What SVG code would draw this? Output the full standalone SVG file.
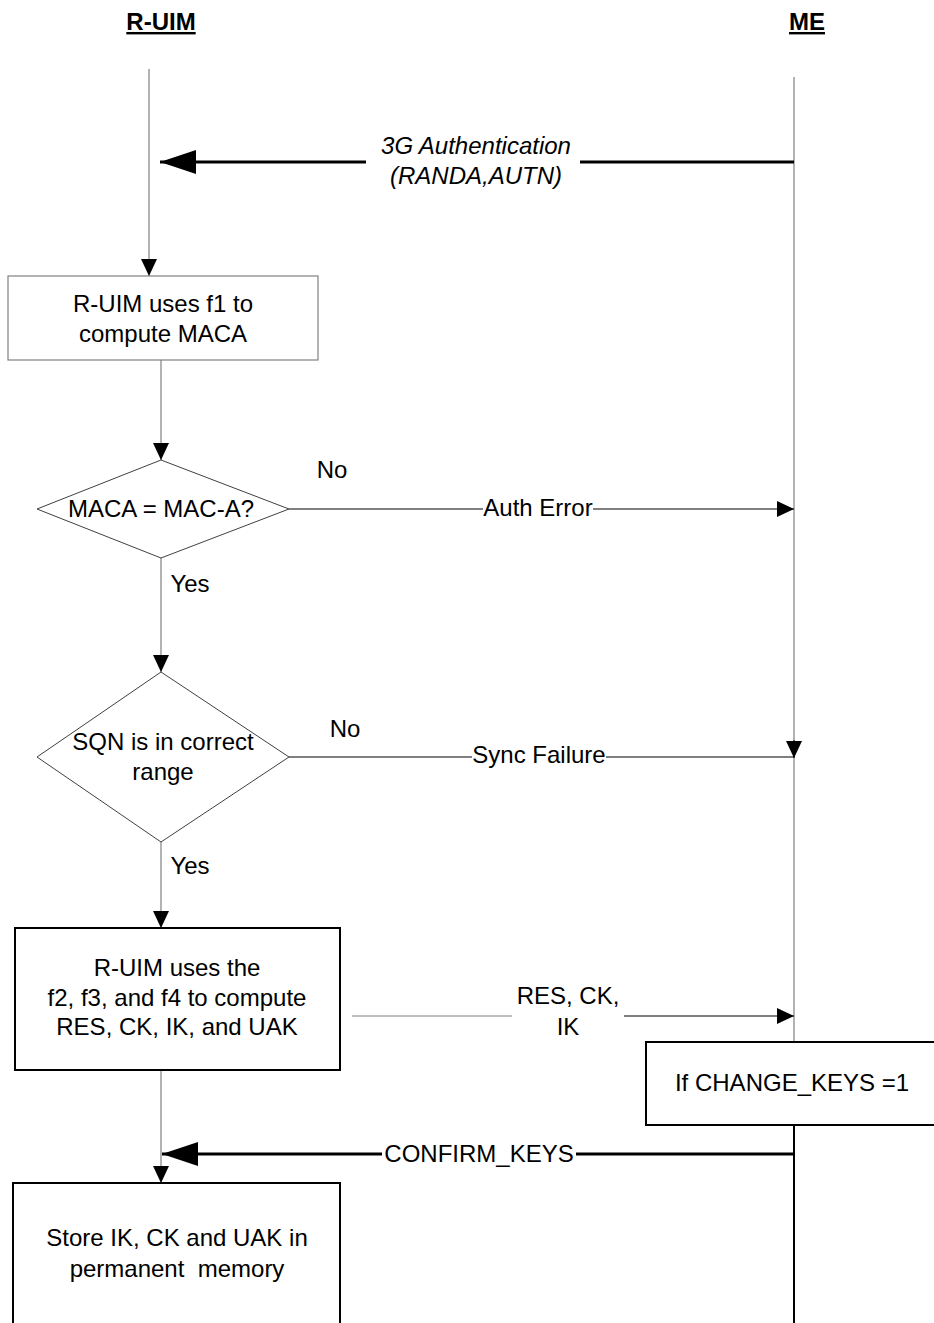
<svg xmlns="http://www.w3.org/2000/svg" width="934" height="1323" viewBox="0 0 934 1323">
<defs>
<style>
text{font-family:"Liberation Sans",Arial,sans-serif;font-size:24px;fill:#000}
.title{font-weight:bold;font-size:24px;text-decoration:underline}
.it{font-style:italic}
.pre{white-space:pre}
.life{stroke:#808080;stroke-width:1.2;fill:none}
.thin{stroke:#000;stroke-width:1;fill:none}
.gray{stroke:#808080;stroke-width:1;fill:none}
.thick{stroke:#000;stroke-width:3;fill:none}
.box{fill:#fff;stroke:#808080;stroke-width:1.2}
.boxb{fill:#fff;stroke:#000;stroke-width:2}
.dia{fill:#fff;stroke:#404040;stroke-width:1}
</style>
<marker id="ah" markerUnits="userSpaceOnUse" markerWidth="18" markerHeight="16" refX="17" refY="8" orient="auto"><path d="M0,0 L17,8 L0,16 z" fill="#000"/></marker>
<marker id="big" markerUnits="userSpaceOnUse" markerWidth="37" markerHeight="24" refX="36" refY="12" orient="auto"><path d="M0,0 L36,12 L0,24 z" fill="#000"/></marker>
</defs>
<rect width="934" height="1323" fill="#fff"/>
<g id="title-ruim"><text class="title" x="161" y="30" text-anchor="middle">R-UIM</text></g>
<g id="title-me"><text class="title" x="807" y="30" text-anchor="middle">ME</text></g>
<g id="connectors">
<line class="life" x1="149" y1="69" x2="149" y2="276" marker-end="url(#ah)"/>
<line class="life" x1="794" y1="77" x2="794" y2="1042"/>
<line x1="794" y1="1125" x2="794" y2="1323" stroke="#000" stroke-width="2"/>
<line class="thick" x1="794" y1="162" x2="580" y2="162"/>
<line class="thick" x1="366" y1="162" x2="160" y2="162" marker-end="url(#big)"/>
<line class="life" x1="161" y1="360" x2="161" y2="460" marker-end="url(#ah)"/>
<line class="thin" x1="289" y1="509" x2="483" y2="509"/>
<line class="thin" x1="593" y1="509" x2="794" y2="509" marker-end="url(#ah)"/>
<line class="life" x1="161" y1="558" x2="161" y2="672" marker-end="url(#ah)"/>
<line class="thin" x1="289" y1="757" x2="472" y2="757"/>
<line class="thin" x1="606" y1="757" x2="794" y2="757"/>
<path d="M794,740 L794,758" class="thin" marker-end="url(#ah)"/>
<line class="life" x1="161" y1="842" x2="161" y2="928" marker-end="url(#ah)"/>
<line class="gray" x1="352" y1="1016" x2="512" y2="1016"/>
<line class="thin" x1="624" y1="1016" x2="794" y2="1016" marker-end="url(#ah)"/>
<line class="life" x1="161" y1="1070" x2="161" y2="1183" marker-end="url(#ah)"/>
<line class="thick" x1="794" y1="1154" x2="576" y2="1154"/>
<line class="thick" x1="382" y1="1154" x2="162" y2="1154" marker-end="url(#big)"/>
</g>
<g id="label-auth"><text class="it" x="476" y="154" text-anchor="middle">3G Authentication</text><text class="it" x="476" y="184" text-anchor="middle">(RANDA,AUTN)</text></g>
<g id="node-f1"><rect class="box" x="8" y="276" width="310" height="84"/><text x="163" y="312" text-anchor="middle">R-UIM uses f1 to</text><text x="163" y="342" text-anchor="middle">compute MACA</text></g>
<g id="node-maca"><polygon class="dia" points="161,460 289,509 161,558 37,509"/><text x="161" y="517" text-anchor="middle">MACA = MAC-A?</text></g>
<g id="label-no1"><text x="332" y="478" text-anchor="middle">No</text></g>
<g id="label-autherr"><text x="538" y="516" text-anchor="middle">Auth Error</text></g>
<g id="label-yes1"><text x="190" y="592" text-anchor="middle">Yes</text></g>
<g id="node-sqn"><polygon class="dia" points="161,672 289,757 161,842 37,757"/><text x="163" y="750" text-anchor="middle">SQN is in correct</text><text x="163" y="780" text-anchor="middle">range</text></g>
<g id="label-no2"><text x="345" y="737" text-anchor="middle">No</text></g>
<g id="label-sync"><text x="539" y="763" text-anchor="middle">Sync Failure</text></g>
<g id="label-yes2"><text x="190" y="874" text-anchor="middle">Yes</text></g>
<g id="node-compute"><rect class="boxb" x="15" y="928" width="325" height="142"/><text x="177" y="976" text-anchor="middle">R-UIM uses the</text><text x="177" y="1006" text-anchor="middle">f2, f3, and f4 to compute</text><text x="177" y="1035" text-anchor="middle">RES, CK, IK, and UAK</text></g>
<g id="label-res"><text x="568" y="1004" text-anchor="middle">RES, CK,</text><text x="568" y="1035" text-anchor="middle">IK</text></g>
<g id="node-change"><rect class="boxb" x="646" y="1042" width="300" height="83"/><text x="792" y="1091" text-anchor="middle">If CHANGE_KEYS =1</text></g>
<g id="label-confirm"><text x="479" y="1162" text-anchor="middle">CONFIRM_KEYS</text></g>
<g id="node-store"><rect class="boxb" x="13" y="1183" width="327" height="150"/><text x="177" y="1246" text-anchor="middle">Store IK, CK and UAK in</text><text class="pre" x="177" y="1277" text-anchor="middle">permanent  memory</text></g>
</svg>
